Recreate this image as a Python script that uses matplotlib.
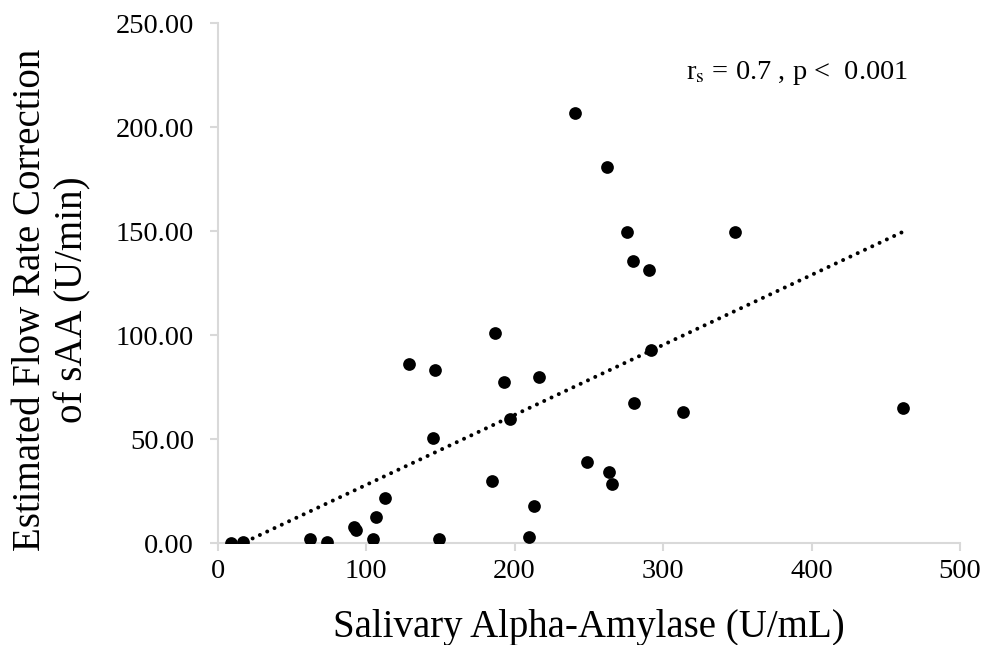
import numpy as np
import matplotlib
matplotlib.use("Agg")
import matplotlib.pyplot as plt

# Salivary alpha-amylase (U/mL) vs flow-rate-corrected sAA (U/min)
saa = [8.8, 16.8, 62.2, 73.6, 92.0, 93.2, 104.6, 106.4, 112.9, 128.6,
       146.6, 144.8, 149.3, 187.0, 184.8, 192.7, 216.6, 197.1, 213.3, 209.7,
       248.5, 263.8, 265.6, 292.1, 280.6, 313.4, 461.6, 240.9, 262.0, 275.5,
       348.3, 279.8, 290.5]
flow_corr = [0.0, 0.8, 2.1, 0.8, 7.8, 6.4, 2.1, 12.6, 21.6, 86.3,
             83.2, 50.8, 2.1, 101.0, 30.0, 77.5, 80.1, 59.8, 17.8, 3.2,
             38.9, 34.3, 28.7, 92.8, 67.3, 63.0, 64.9, 207.0, 180.9, 149.8,
             149.8, 135.9, 131.5]

x_ticks = [0, 100, 200, 300, 400, 500]
y_ticks = [0, 50, 100, 150, 200, 250]

plt.rcParams['font.family'] = ['Liberation Serif', 'DejaVu Serif']
plt.rcParams['mathtext.fontset'] = 'stix'

fig = plt.figure(figsize=(9.85, 6.45), dpi=100)
ax = fig.add_axes([0.221, 0.1577, 0.7536, 0.8062])

x = np.array(saa)
y = np.array(flow_corr)
ax.scatter(x, y, s=84, color='black', zorder=3, linewidths=0)

# linear least-squares trend line over the data range, drawn as round dots
slope, intercept = np.polyfit(x, y, 1)
xl = np.linspace(x.min(), x.max(), 200)
ax.plot(xl, slope * xl + intercept, color='black', linestyle=(0, (0.001, 2.0)),
        linewidth=2.9, zorder=2, dash_capstyle='round')

ax.set_xlim(0, 500)
ax.set_ylim(0, 250)
ax.set_xticks(x_ticks)
ax.set_yticks(y_ticks)
ax.set_xticklabels([str(v) for v in x_ticks])
ax.set_yticklabels([f"{v:.2f}" for v in y_ticks])

for side in ('top', 'right'):
    ax.spines[side].set_visible(False)
for side in ('left', 'bottom'):
    ax.spines[side].set_color('#d9d9d9')
    ax.spines[side].set_linewidth(1.5)
ax.tick_params(axis='both', direction='out', length=6, width=1.5,
               color='#d9d9d9', labelsize=20.5, labelcolor='black')
ax.tick_params(axis='y', pad=11)
ax.tick_params(axis='x', pad=5)

fig.text(589 / 985, 1 - 628 / 645, "Salivary Alpha-Amylase (U/mL)",
         ha='center', va='center', fontsize=28)
fig.text(52 / 985, 1 - 300 / 645, "Estimated Flow Rate Correction\nof sAA (U/min)",
         ha='center', va='center', rotation=90, fontsize=28,
         multialignment='center', linespacing=1.2)

ax.text(0.780, 0.904, r"r$_\mathrm{s}$ = 0.7 , p <  0.001", transform=ax.transAxes,
        ha='center', va='center', fontsize=20.5)

fig.savefig("out.png", dpi=100)
